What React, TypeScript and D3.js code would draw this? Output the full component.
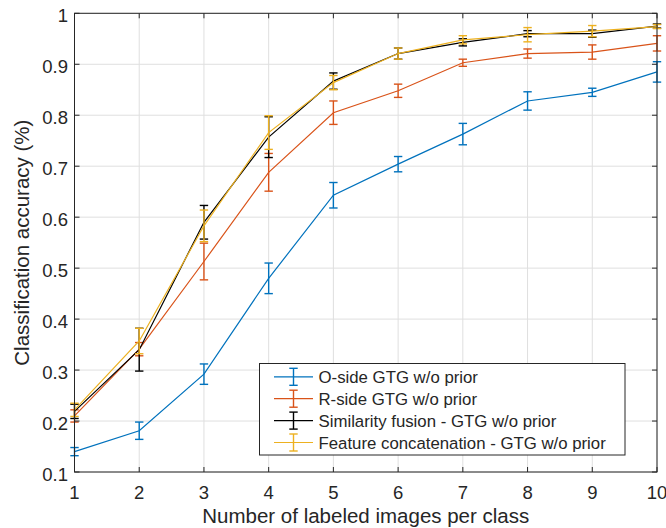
import React, { useEffect, useRef } from 'react'
import * as d3 from 'd3'

// labeled images per class
const shots = [1, 2, 3, 4, 5, 6, 7, 8, 9, 10]

const oSideMean = [0.140, 0.181, 0.292, 0.480, 0.643, 0.704, 0.763, 0.828, 0.845, 0.885]
const oSideErr = [0.008, 0.017, 0.020, 0.030, 0.025, 0.015, 0.021, 0.018, 0.008, 0.020]
const rSideMean = [0.210, 0.341, 0.513, 0.688, 0.805, 0.848, 0.903, 0.921, 0.924, 0.941]
const rSideErr = [0.012, 0.013, 0.036, 0.037, 0.023, 0.013, 0.007, 0.009, 0.014, 0.015]
const fusionMean = [0.219, 0.340, 0.590, 0.757, 0.867, 0.921, 0.943, 0.960, 0.960, 0.975]
const fusionErr = [0.014, 0.042, 0.033, 0.040, 0.016, 0.011, 0.007, 0.006, 0.007, 0.004]
const concatMean = [0.222, 0.357, 0.583, 0.766, 0.864, 0.921, 0.948, 0.958, 0.965, 0.974]
const concatErr = [0.013, 0.025, 0.031, 0.033, 0.014, 0.011, 0.008, 0.014, 0.011, 0.004]

const seriesNames = [
  'O-side GTG w/o prior',
  'R-side GTG w/o prior',
  'Similarity fusion - GTG w/o prior',
  'Feature concatenation - GTG w/o prior',
]
const seriesColors = ['#0072BD', '#D95319', '#000000', '#EDB120']

const yTicks = [0.1, 0.2, 0.3, 0.4, 0.5, 0.6, 0.7, 0.8, 0.9, 1]

const W = 666
const H = 528
const FONT = '"Liberation Sans", Arial, Helvetica, sans-serif'
const AX = '#262626'

const App = () => {
  const ref = useRef(null)

  useEffect(() => {
    const svg = d3.select(ref.current)
    svg.selectAll('*').remove()

    const left = 74.5, right = 657, top = 13.3, bottom = 472
    const x = d3.scaleLinear().domain([1, 10]).range([left, right])
    const y = d3.scaleLinear().domain([0.1, 1]).range([bottom, top])

    // grid
    const grid = svg.append('g').attr('stroke', '#dfdfdf').attr('stroke-width', 1)
    shots.forEach((s) => {
      grid.append('line').attr('x1', x(s)).attr('x2', x(s)).attr('y1', top).attr('y2', bottom)
    })
    yTicks.forEach((t) => {
      grid.append('line').attr('x1', left).attr('x2', right).attr('y1', y(t)).attr('y2', y(t))
    })

    // series
    const series = [
      { mean: oSideMean, err: oSideErr },
      { mean: rSideMean, err: rSideErr },
      { mean: fusionMean, err: fusionErr },
      { mean: concatMean, err: concatErr },
    ]
    const line = d3.line<number>().x((d, i) => x(shots[i])).y((d) => y(d))
    const cap = 4.2

    series.forEach((s, k) => {
      const g = svg.append('g').attr('stroke', seriesColors[k]).attr('fill', 'none')
      g.append('path').attr('d', line(s.mean)).attr('stroke-width', 1.2)
      s.mean.forEach((m, i) => {
        const cx = x(shots[i])
        const y0 = y(m + s.err[i])
        const y1 = y(m - s.err[i])
        g.append('line').attr('x1', cx).attr('x2', cx).attr('y1', y0).attr('y2', y1).attr('stroke-width', 1.4)
        g.append('line').attr('x1', cx - cap).attr('x2', cx + cap).attr('y1', y0).attr('y2', y0).attr('stroke-width', 1.4)
        g.append('line').attr('x1', cx - cap).attr('x2', cx + cap).attr('y1', y1).attr('y2', y1).attr('stroke-width', 1.4)
      })
    })

    // box + ticks
    const ax = svg.append('g').attr('stroke', AX).attr('stroke-width', 1).attr('fill', 'none')
    ax.append('rect').attr('x', left).attr('y', top).attr('width', right - left).attr('height', bottom - top)
    const tl = 5
    shots.forEach((s) => {
      ax.append('line').attr('x1', x(s)).attr('x2', x(s)).attr('y1', bottom).attr('y2', bottom - tl)
      ax.append('line').attr('x1', x(s)).attr('x2', x(s)).attr('y1', top).attr('y2', top + tl)
    })
    yTicks.forEach((t) => {
      ax.append('line').attr('x1', left).attr('x2', left + tl).attr('y1', y(t)).attr('y2', y(t))
      ax.append('line').attr('x1', right).attr('x2', right - tl).attr('y1', y(t)).attr('y2', y(t))
    })

    // tick labels
    const txt = svg.append('g').attr('fill', AX).attr('font-family', FONT)
    shots.forEach((s) => {
      txt.append('text').attr('x', x(s)).attr('y', 498.5).attr('text-anchor', 'middle')
        .attr('font-size', 18.5).text(String(s))
    })
    yTicks.forEach((t) => {
      txt.append('text').attr('x', 68).attr('y', y(t) + 8.8).attr('text-anchor', 'end')
        .attr('font-size', 18.5).text(d3.format('~g')(t))
    })

    // axis labels
    txt.append('text').attr('x', (left + right) / 2).attr('y', 523).attr('text-anchor', 'middle')
      .attr('font-size', 20.5).text('Number of labeled images per class')
    txt.append('text').attr('transform', `translate(29, ${(top + bottom) / 2}) rotate(-90)`)
      .attr('text-anchor', 'middle').attr('font-size', 20.5).text('Classification accuracy (%)')

    // legend
    const lg = svg.append('g')
    lg.append('rect').attr('x', 259.5).attr('y', 363.5).attr('width', 365.5).attr('height', 91.5)
      .attr('fill', '#fff').attr('stroke', AX).attr('stroke-width', 1)
    seriesNames.forEach((name, k) => {
      const ry = 376.8 + k * 21.9
      const c = seriesColors[k]
      lg.append('line').attr('x1', 274).attr('x2', 313).attr('y1', ry).attr('y2', ry)
        .attr('stroke', c).attr('stroke-width', 1.2)
      lg.append('line').attr('x1', 293.5).attr('x2', 293.5).attr('y1', ry - 8.5).attr('y2', ry + 8.5)
        .attr('stroke', c).attr('stroke-width', 1.4)
      lg.append('line').attr('x1', 293.5 - cap).attr('x2', 293.5 + cap).attr('y1', ry - 8.5).attr('y2', ry - 8.5)
        .attr('stroke', c).attr('stroke-width', 1.4)
      lg.append('line').attr('x1', 293.5 - cap).attr('x2', 293.5 + cap).attr('y1', ry + 8.5).attr('y2', ry + 8.5)
        .attr('stroke', c).attr('stroke-width', 1.4)
      lg.append('text').attr('x', 318.5).attr('y', ry + 6.3).attr('font-family', FONT)
        .attr('font-size', 16.8).attr('fill', AX).text(name)
    })
  }, [])

  return (
    <svg
      ref={ref}
      width={W}
      height={H}
      style={{ position: 'absolute', left: 0, top: 0, background: '#fff' }}
    />
  )
}

export default App
